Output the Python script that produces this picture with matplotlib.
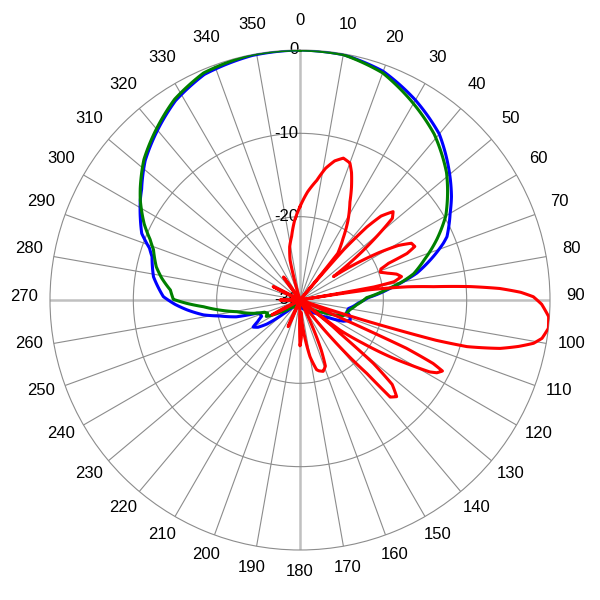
import numpy as np
import matplotlib.pyplot as plt

plt.rcParams['font.family'] = ['Liberation Sans', 'DejaVu Sans']

# Diagrama azul (graus, dB)
angulos_azul = [0, 10, 20, 30, 40, 49, 55.7, 60, 66.7, 68.4, 72, 77, 80, 83, 88, 93, 97, 100, 104, 108,
                112, 116, 121, 130, 146, 180, 210, 226, 230, 234, 237, 240, 243, 247, 251.6, 253, 255.2,
                258.7, 261.2, 265, 268, 271.4, 279, 286.3, 289, 292.8, 297, 302, 305, 312, 319, 328, 337,
                349, 360]
db_azul = [0, -0.1, -0.8, -2.3, -4.0, -6.3, -8.0, -9.2, -10.8, -11.5, -13.2, -15.6, -17.5, -19.3, -21.8,
           -23.0, -23.6, -24.1, -24.2, -23.7, -23.5, -24.2, -25.8, -27.5, -28.6, -29.3, -29.3, -28.8, -27.5,
           -25.1, -24.0, -23.5, -24.3, -25.0, -24.9, -24.6, -22.1, -20.2, -18.3, -16.4, -15.0, -13.6, -12.2,
           -11.5, -10.9, -9.4, -8.5, -7.4, -6.8, -5.0, -3.6, -1.8, -0.6, -0.1, 0]

# Diagrama verde
angulos_verde = [0, 10, 20, 29, 39, 49, 57.5, 60, 66, 72, 77, 80, 83, 88, 95, 101, 104, 110, 118, 130,
                 150, 180, 210, 230, 238, 244, 248, 251, 254, 259.5, 266, 268.3, 270.3, 274.4, 279, 283,
                 289, 292, 296, 302, 305, 312, 319, 328, 337, 349, 360]
db_verde = [0, -0.1, -1.0, -2.6, -4.4, -6.7, -9.1, -9.8, -12.0, -14.3, -16.0, -17.6, -19.5, -22.0, -23.2,
            -23.9, -24.1, -24.5, -26.8, -28.4, -29.2, -29.5, -29.3, -28.6, -27.2, -25.5, -25.8, -25.5, -24.2,
            -22.3, -18.4, -16.4, -14.8, -14.4, -13.2, -12.3, -11.4, -10.6, -9.2, -7.4, -6.6, -4.8, -3.4,
            -1.6, -0.4, 0, 0]

# Diagrama vermelho
angulos_vermelho = [0, 4, 8, 11, 14, 17, 20, 22, 24.5, 27, 31, 35, 39, 40, 41, 42.5, 44, 46.5, 48.5, 50,
                    52, 55, 57, 59, 61, 63, 65, 66.5, 67.5, 69, 71, 73, 75, 77, 79, 80, 80.7, 81.5, 83,
                    84.3, 85.5, 86.7, 88, 89.2, 91, 93.8, 96.5, 99, 100.5, 102, 103.6, 105.6, 106.5, 107,
                    107.5, 108.5, 113, 113.8, 114.4, 115.5, 116.5, 118, 119, 120.5, 122.2, 124.5, 127, 128,
                    129, 129.8, 130.8, 132.5, 135, 137.1, 137.7, 139, 140.2, 142, 144, 152, 155, 157, 159,
                    162, 165, 166.6, 170, 173.7, 176, 178, 180, 182, 201, 204, 207, 239, 242, 245, 267,
                    270, 273, 293.5, 296.5, 299.5, 321.5, 324.4, 327, 343, 346, 349, 352.5, 356, 360]
db_vermelho = [-18.8, -17.0, -15.5, -13.9, -12.8, -12.2, -12.5, -13.5, -15.1, -16.8, -18.8, -21.0, -22.8,
               -30, -22.0, -18.1, -16.0, -14.6, -15.2, -17.5, -20.5, -25.1, -22.0, -19.0, -16.5, -15.0,
               -14.8, -16.0, -18.5, -19.6, -19.8, -19.0, -18.0, -17.5, -18.5, -21.0, -30, -22.0, -17.0,
               -13.9, -9.5, -6.0, -3.5, -2.0, -1.0, -0.1, 0, -0.6, -1.5, -3.2, -5.3, -9.2, -13.0, -17.5,
               -21.6, -30, -30, -24.0, -16.0, -12.3, -10.9, -11.4, -12.2, -14.7, -17.2, -20.8, -24.0, -30,
               -25.0, -23.8, -18.4, -15.0, -13.6, -14.1, -18.1, -21.0, -23.8, -27.5, -30, -30, -26.5,
               -23.5, -21.5, -21.0, -21.2, -21.4, -23.1, -26.4, -28.5, -25.5, -24.5, -30, -30, -26.5, -30,
               -30, -26.2, -30, -30, -27.6, -30, -30, -26.4, -30, -30, -26.6, -30, -30, -25.1, -23.5,
               -22.3, -20.5, -18.8]

aneis = [0, -10, -20, -30]
graus = list(range(0, 360, 10))

fig = plt.figure(figsize=(6, 6), dpi=100)
ax = fig.add_axes([50 / 600, 50 / 600, 500 / 600, 500 / 600], projection='polar')
ax.set_theta_zero_location('N')
ax.set_theta_direction(-1)
ax.set_ylim(-30, 0)

# grade angular a cada 10 graus
ax.set_thetagrids(graus, [''] * len(graus))
for i, linha in enumerate(ax.xaxis.get_gridlines()):
    if i % 9 == 0:
        linha.set_color('#c0c0c0')
        linha.set_linewidth(1.8)
    else:
        linha.set_color('#8c8c8c')
        linha.set_linewidth(0.8)
    linha.set_linestyle('-')

# rotulos dos angulos, fora do circulo externo
for g in graus:
    t = np.deg2rad(g)
    ax.annotate(str(g), xy=(t, 0), xytext=(25.5 * np.sin(t), 25.5 * np.cos(t) + 4),
                textcoords='offset pixels', ha='center', va='center', fontsize=12,
                annotation_clip=False)

ax.set_rgrids([-20, -10], labels=['', ''])
ax.yaxis.grid(True, color='#8c8c8c', linewidth=0.8, linestyle='-')
ax.spines['polar'].set_color('#8c8c8c')
ax.spines['polar'].set_linewidth(0.8)

for v in aneis:
    ax.annotate(str(v), xy=(0, v), xytext=(-1, 0), textcoords='offset points',
                ha='right', va='center', fontsize=12, zorder=1.8)

curvas = [(angulos_azul, db_azul, '#0000ff', 3),
          (angulos_verde, db_verde, '#008000', 4),
          (angulos_vermelho, db_vermelho, '#ff0000', 5)]
for angs, dbs, cor, z in curvas:
    linha, = ax.plot(np.deg2rad(angs), dbs, color=cor, linewidth=2.2, zorder=z)
    # segmentos seguem o sistema polar (arcos em vez de cordas)
    linha.get_path()._interpolation_steps = 20

fig.savefig('out.png', dpi=100)
